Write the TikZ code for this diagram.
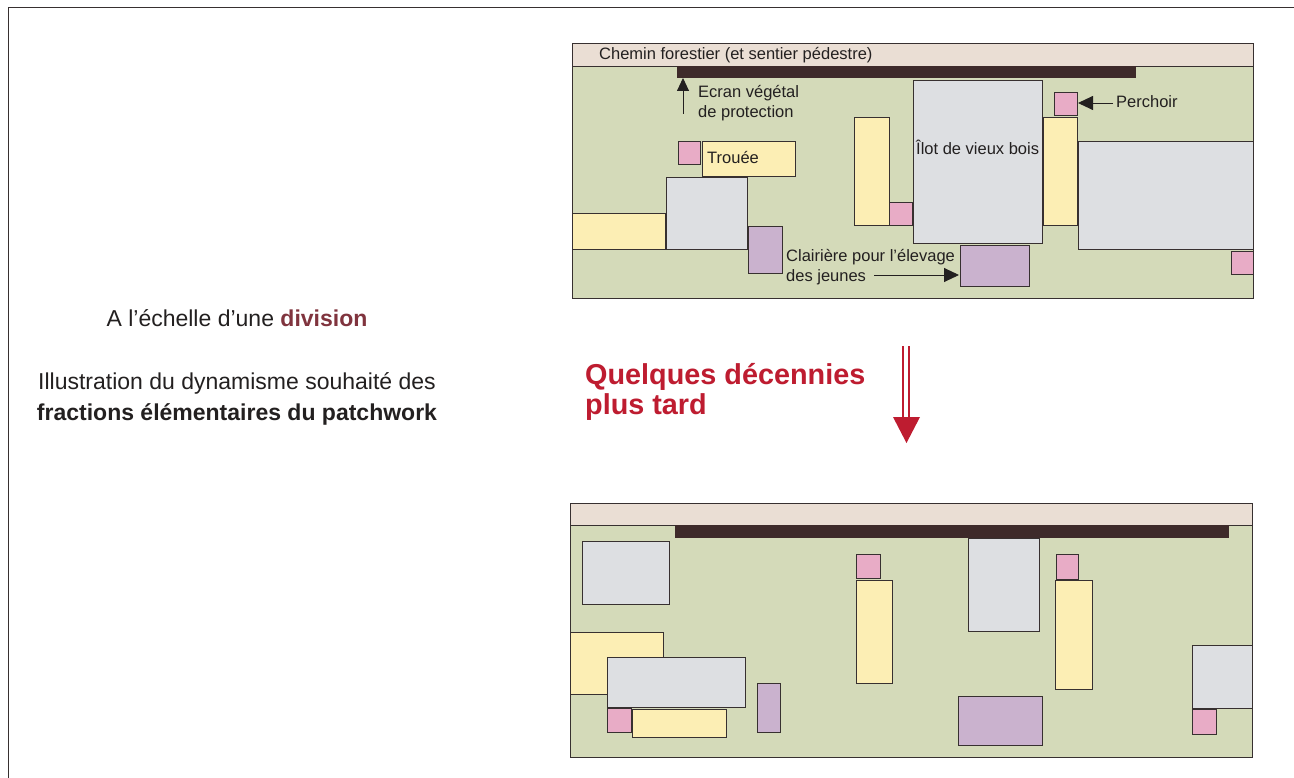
\documentclass[tikz,border=0pt]{standalone}
\usepackage{fontspec}
\setmainfont{Liberation Sans}
\usetikzlibrary{arrows.meta}
\definecolor{fgreen}{RGB}{212,218,185}
\definecolor{road}{RGB}{234,222,212}
\definecolor{bgrey}{RGB}{221,223,226}
\definecolor{byellow}{RGB}{252,238,180}
\definecolor{bpink}{RGB}{232,172,198}
\definecolor{bpurple}{RGB}{202,178,206}
\definecolor{dbar}{RGB}{62,42,42}
\definecolor{edge}{RGB}{55,48,48}
\definecolor{qred}{RGB}{190,28,48}
\definecolor{divred}{RGB}{128,52,62}
\definecolor{txt}{RGB}{35,32,32}
\tikzset{
  box/.style={draw=edge,line width=0.9pt},
  green/.style={box,fill=fgreen},
  roadbox/.style={box,fill=road},
  grey/.style={box,fill=bgrey},
  yel/.style={box,fill=byellow},
  pnk/.style={box,fill=bpink},
  pur/.style={box,fill=bpurple},
  bar/.style={fill=dbar},
  lab/.style={anchor=west,inner sep=0pt,text=txt,font=\fontsize{16.5}{20}\selectfont},
  ptr/.style={draw=txt,line width=0.9pt,-{Triangle[length=15pt,width=14pt]}},
}
\begin{document}
\begin{tikzpicture}[x=1pt,y=-1pt]
\useasboundingbox (0,0) rectangle (1294,778);
\fill[white] (0,0) rectangle (1294,778);
% frame
\draw[edge,line width=1pt] (8,778) -- (8,8) -- (1294,8);

% ===== left texts =====
\node[inner sep=0pt,text=txt,font=\fontsize{23}{27}\selectfont] (t1) at (237,318) {A l’échelle d’une \textcolor{divred}{\bfseries division}};
\node[inner sep=0pt,text=txt,font=\fontsize{23}{31}\selectfont,align=center] (t2) at (237,399) {Illustration du dynamisme souhaité des\\\bfseries fractions élémentaires du patchwork};

% ===== middle =====
\node[anchor=west,inner sep=0pt,text=qred,font=\fontsize{28.8}{30}\selectfont\bfseries,align=left] (t3) at (585,392) {Quelques décennies\\plus tard};
\draw[qred,line width=1.3pt] (903,346) -- (903,418) (909,346) -- (909,418);
\fill[qred] (893,417) -- (920,417) -- (906.5,443) -- cycle;

% ===== top panel =====
\draw[green] (572,43) rectangle (1253,298);
\draw[roadbox] (572,43) rectangle (1253,66);
\fill[bar] (677,66) rectangle (1136,78);
\draw[grey] (666,177) rectangle (747,249);
\draw[yel] (572,213) rectangle (665,249);
\draw[pur] (748,226) rectangle (782,273);
\draw[pnk] (678,141) rectangle (700,164);
\draw[yel] (702,141) rectangle (795,176);
\draw[yel] (854,117) rectangle (889,225);
\draw[pnk] (889,202) rectangle (912,225);
\draw[grey] (913,80) rectangle (1042,243);
\draw[pur] (960,245) rectangle (1029,286);
\draw[pnk] (1054,92) rectangle (1077,115);
\draw[yel] (1043,117) rectangle (1077,225);
\draw[grey] (1078,141) rectangle (1253,249);
\draw[pnk] (1231,251) rectangle (1253,274);

\node[lab] (chemin) at (599,55) {Chemin forestier (et sentier pédestre)};
\node[lab] (ecran) at (698,93) {Ecran végétal};
\node[lab] (ecran2) at (698,113) {de protection};
\coordinate (ecranfoot) at (683,114);
\coordinate (ecrantip) at (683,78);
\draw[draw=txt,line width=0.9pt,-{Triangle[length=13pt,width=12pt]}] (ecranfoot) -- (ecrantip);
\node[lab] (troue) at (707,158) {Trouée};
\node[lab] (ilot) at (916,147) {Îlot de vieux bois};
\node[lab] (clair) at (786,257) {Clairière pour l’élevage};
\node[lab] (jeunes) at (786,277) {des jeunes};
\coordinate (clairtip) at (959,275);
\draw[ptr] ([xshift=8pt]jeunes.east |- clairtip) -- (clairtip);
\node[lab] (perch) at (1116,102) {Perchoir};
\coordinate (perchtip) at (1078,103);
\draw[ptr] ([xshift=-3pt]perch.west |- perchtip) -- (perchtip);

% ===== bottom panel =====
\draw[green] (570,503) rectangle (1252,757);
\draw[roadbox] (570,503) rectangle (1252,525);
\fill[bar] (675,525) rectangle (1229,538);
\draw[grey] (582,541) rectangle (669,604);
\draw[yel] (570,632) rectangle (663,694);
\draw[grey] (607,657) rectangle (745,707);
\draw[pnk] (607,708) rectangle (631,732);
\draw[yel] (632,709) rectangle (726,737);
\draw[pur] (757,683) rectangle (780,732);
\draw[pnk] (856,554) rectangle (880,578);
\draw[yel] (856,580) rectangle (892,683);
\draw[grey] (968,538) rectangle (1039,631);
\draw[pnk] (1056,554) rectangle (1078,579);
\draw[yel] (1055,580) rectangle (1092,689);
\draw[pur] (958,696) rectangle (1042,745);
\draw[grey] (1192,645) rectangle (1252,708);
\draw[pnk] (1192,709) rectangle (1216,734);
\end{tikzpicture}
\end{document}
